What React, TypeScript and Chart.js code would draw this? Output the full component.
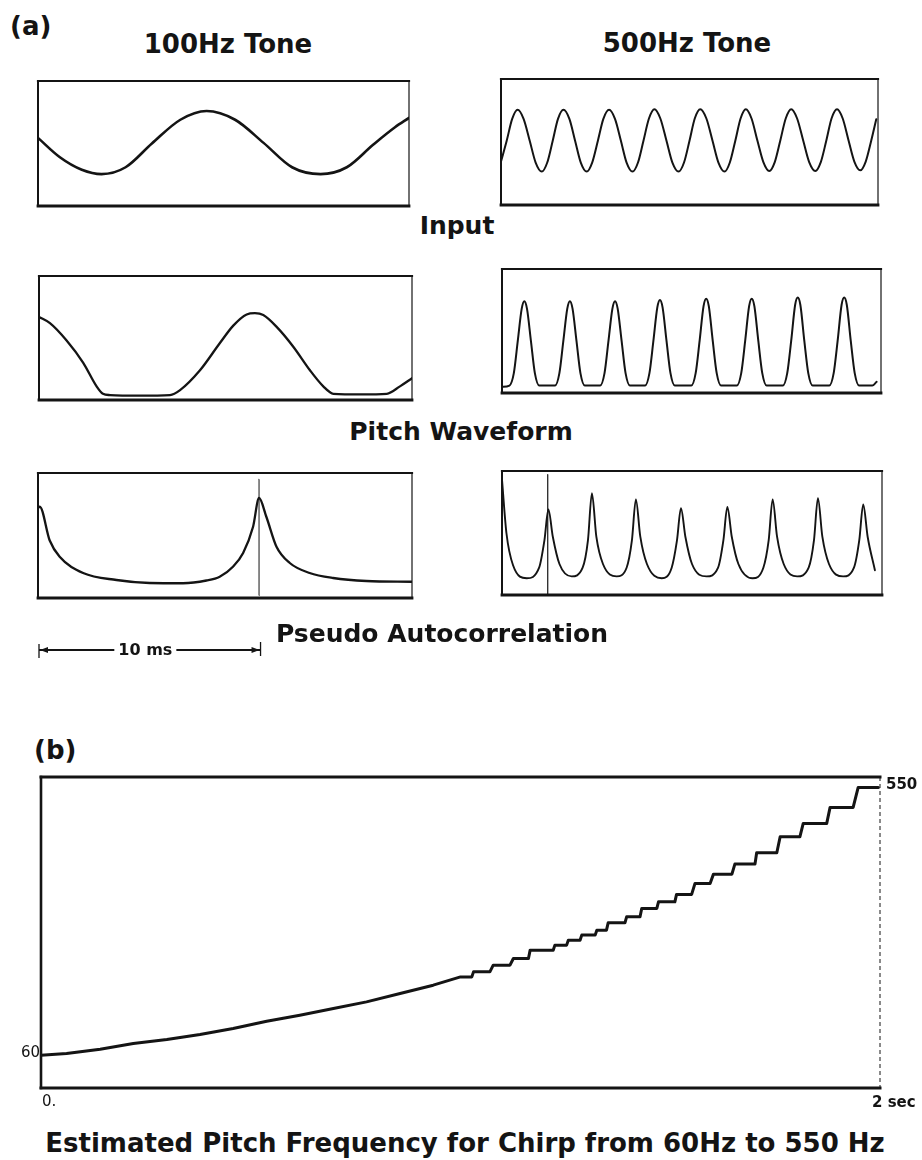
import React, { useEffect, useRef } from "react";
import { Chart, registerables } from "chart.js";

Chart.register(...registerables);

const INK = "#141414";
const FONT = '"DejaVu Sans", "Liberation Sans", sans-serif';

// ---------- (a) 100 Hz tone (time in ms, amplitude normalised to the panel) ----------
const tone100InputMs = [0, 1.0, 2.0, 2.9, 4.0, 5.2, 6.5, 7.7, 9.0, 10.3, 11.6, 12.9, 14.1, 15.3, 16.3, 16.94];
const tone100InputAmp = [0.09, -0.22, -0.42, -0.49, -0.38, 0.0, 0.38, 0.52, 0.38, 0.01, -0.38, -0.49, -0.38, -0.02, 0.26, 0.41];

const tone100PitchMs = [0, 0.5, 1.26, 2.02, 2.63, 2.92, 3.24, 4.6, 5.98, 6.44, 7.35, 8.26, 8.87, 9.48, 9.86, 10.24, 10.85, 11.61, 12.37, 12.98, 13.44, 14.7, 15.88, 16.48, 17.03];
const tone100PitchAmp = [0.67, 0.62, 0.48, 0.3, 0.11, 0.05, 0.04, 0.035, 0.04, 0.08, 0.24, 0.46, 0.6, 0.69, 0.7, 0.685, 0.59, 0.43, 0.24, 0.11, 0.05, 0.045, 0.05, 0.11, 0.175];

const tone100AcfMs = [0, 0.08, 0.53, 0.98, 2.04, 3.55, 5.05, 6.56, 7.62, 8.22, 8.82, 9.28, 9.73, 10.0, 10.33, 10.79, 11.39, 12.29, 13.35, 14.86, 16.9];
const tone100AcfAmp = [0.72, 0.73, 0.46, 0.33, 0.2, 0.144, 0.12, 0.118, 0.14, 0.17, 0.25, 0.36, 0.57, 0.8, 0.65, 0.41, 0.28, 0.2, 0.16, 0.136, 0.13];
const tone100LagMs = 10;
const tone100LagSpan = [0.02, 0.95];
const scaleBarMs = 10;
const scaleBarLabel = "10 ms";

// ---------- (a) 500 Hz tone ----------
const tone500InputMs = [
  0, 0.26, 0.51, 0.76, 1.03, 1.31, 1.58, 1.86, 2.11, 2.36, 2.6, 2.85, 3.12, 3.38, 3.64, 3.91,
  4.16, 4.42, 4.67, 4.93, 5.2, 5.47, 5.73, 6.0, 6.25, 6.5, 6.75, 7.0, 7.27, 7.55, 7.82, 8.1,
  8.35, 8.6, 8.84, 9.09, 9.37, 9.65, 9.92, 10.2, 10.44, 10.69, 10.93, 11.17, 11.43, 11.7, 11.97, 12.24,
  12.49, 12.74, 12.99, 13.24, 13.51, 13.79, 14.06, 14.34, 14.59, 14.84, 15.08, 15.33, 15.59, 15.86, 16.12, 16.39,
  16.64, 16.89, 17.12,
];
const tone500InputAmp = [
  -0.31, 0.02, 0.366, 0.51, 0.366, 0.02, -0.326, -0.47, -0.326, 0.02, 0.366, 0.51, 0.366, 0.02, -0.326, -0.47,
  -0.326, 0.02, 0.366, 0.51, 0.366, 0.02, -0.326, -0.47, -0.326, 0.02, 0.373, 0.52, 0.373, 0.02, -0.326, -0.47,
  -0.326, 0.02, 0.373, 0.52, 0.373, 0.02, -0.326, -0.47, -0.326, 0.02, 0.373, 0.52, 0.373, 0.02, -0.319, -0.46,
  -0.319, 0.02, 0.373, 0.52, 0.373, 0.02, -0.319, -0.46, -0.319, 0.02, 0.373, 0.52, 0.373, 0.02, -0.31, -0.45,
  -0.31, 0.02, 0.36,
];

const tone500PitchMs = [
  0, 0.34, 0.54, 0.72, 0.9, 1.02, 1.14, 1.32, 1.5, 1.7,
  2.42, 2.62, 2.8, 2.98, 3.1, 3.22, 3.4, 3.58, 3.78,
  4.48, 4.68, 4.86, 5.04, 5.16, 5.28, 5.46, 5.64, 5.84,
  6.53, 6.73, 6.91, 7.09, 7.21, 7.33, 7.51, 7.69, 7.89,
  8.64, 8.84, 9.02, 9.2, 9.32, 9.44, 9.62, 9.8, 10.0,
  10.72, 10.92, 11.1, 11.28, 11.4, 11.52, 11.7, 11.88, 12.08,
  12.82, 13.02, 13.2, 13.38, 13.5, 13.62, 13.8, 13.98, 14.18,
  14.94, 15.14, 15.32, 15.5, 15.62, 15.74, 15.92, 16.1, 16.3,
  16.9, 17.1,
];
const tone500PitchAmp = [
  0.05, 0.06, 0.16, 0.42, 0.68, 0.74, 0.68, 0.42, 0.16, 0.06,
  0.06, 0.16, 0.42, 0.68, 0.74, 0.68, 0.42, 0.16, 0.06,
  0.06, 0.16, 0.42, 0.68, 0.74, 0.68, 0.42, 0.16, 0.06,
  0.06, 0.16, 0.42, 0.69, 0.75, 0.69, 0.42, 0.16, 0.06,
  0.06, 0.16, 0.42, 0.7, 0.76, 0.7, 0.42, 0.16, 0.06,
  0.06, 0.16, 0.42, 0.7, 0.76, 0.7, 0.42, 0.16, 0.06,
  0.06, 0.16, 0.42, 0.71, 0.77, 0.71, 0.42, 0.16, 0.06,
  0.06, 0.16, 0.42, 0.71, 0.77, 0.71, 0.42, 0.16, 0.06,
  0.06, 0.09,
];

const tone500AcfMs = [
  0, 0.2, 0.5, 1.12,
  1.68, 1.92, 2.1, 2.3, 2.6, 3.15,
  3.65, 3.89, 4.07, 4.27, 4.57, 5.19,
  5.64, 5.88, 6.06, 6.26, 6.56, 7.23,
  7.68, 7.92, 8.1, 8.3, 8.6, 9.26,
  9.78, 10.02, 10.2, 10.4, 10.7, 11.34,
  11.83, 12.07, 12.25, 12.45, 12.75, 13.36,
  13.88, 14.12, 14.3, 14.5, 14.8, 15.44,
  15.93, 16.17, 16.35, 16.55, 16.88,
];
const tone500AcfAmp = [
  0.93, 0.5, 0.24, 0.135,
  0.22, 0.44, 0.69, 0.47, 0.25, 0.15,
  0.22, 0.44, 0.82, 0.47, 0.25, 0.15,
  0.22, 0.44, 0.77, 0.47, 0.25, 0.135,
  0.22, 0.44, 0.7, 0.47, 0.25, 0.15,
  0.22, 0.44, 0.71, 0.47, 0.25, 0.135,
  0.22, 0.44, 0.77, 0.47, 0.25, 0.15,
  0.22, 0.44, 0.78, 0.47, 0.25, 0.15,
  0.22, 0.44, 0.73, 0.47, 0.2,
];
const tone500LagMs = 2.07;
const tone500LagSpan = [0.0, 0.97];

// ---------- (b) estimated pitch of a 60 Hz -> 550 Hz chirp ----------
const chirpSec = [
  0, 0.061, 0.141, 0.22, 0.3, 0.379, 0.458, 0.538, 0.617, 0.697, 0.776, 0.856, 0.935,
  1.0, 1.027, 1.031, 1.07, 1.078, 1.118, 1.126, 1.162, 1.166, 1.221, 1.225, 1.253,
  1.257, 1.285, 1.289, 1.321, 1.325, 1.348, 1.352, 1.392, 1.396, 1.428, 1.432, 1.468,
  1.472, 1.511, 1.515, 1.551, 1.559, 1.595, 1.603, 1.647, 1.654, 1.702, 1.706, 1.754,
  1.762, 1.809, 1.817, 1.873, 1.881, 1.936, 1.948, 1.996,
];
const chirpHz = [
  60, 63.1, 71.0, 81.4, 88.7, 97.9, 108.9, 122.2, 133.2, 145.5, 157.6, 172.9, 188.1,
  203.3, 203.3, 212.5, 212.5, 224.7, 224.7, 237.0, 237.0, 252.2, 252.2, 261.4, 261.4,
  270.5, 270.5, 279.7, 279.7, 288.8, 288.8, 302.2, 302.2, 313.2, 313.2, 328.5, 328.5,
  340.6, 340.6, 354.2, 354.2, 374.3, 374.3, 391.3, 391.3, 409.6, 409.6, 430.3, 430.3,
  459.6, 459.6, 484.1, 484.1, 513.4, 513.4, 550, 550,
];
const chirpTicksHz = [60, 550];
const chirpTicksSec = [0, 2];
const chirpTickLabels = ["0.", "2 sec"];

type Trace = { xs: number[]; ys: number[]; width: number; smooth?: boolean };
type Frame = { top: number; bottom: number; left: number; right: number; rightDash?: number[] };
type PanelProps = {
  box: [number, number, number, number];
  pad: [number, number, number, number];
  xMax: number;
  yMin: number;
  yMax: number;
  traces: Trace[];
  frame: Frame;
  extra?: (chart: Chart) => void;
};

function drawFrame(chart: Chart, f: Frame) {
  const { ctx, chartArea: a } = chart;
  const seg = (w: number, x1: number, y1: number, x2: number, y2: number, dash?: number[]) => {
    ctx.lineWidth = w;
    ctx.setLineDash(dash ?? []);
    ctx.lineCap = dash ? "butt" : "square";
    ctx.beginPath();
    ctx.moveTo(x1, y1);
    ctx.lineTo(x2, y2);
    ctx.stroke();
  };
  ctx.save();
  ctx.strokeStyle = INK;
  seg(f.left, a.left, a.top, a.left, a.bottom);
  seg(f.right, a.right, a.top, a.right, a.bottom, f.rightDash);
  seg(f.top, a.left, a.top, a.right, a.top);
  seg(f.bottom, a.left, a.bottom, a.right, a.bottom);
  ctx.restore();
}

function Panel({ box, pad, xMax, yMin, yMax, traces, frame, extra }: PanelProps) {
  const ref = useRef<HTMLCanvasElement>(null);
  const [bx, by, bw, bh] = box;
  const [pl, pt, pr, pb] = pad;
  useEffect(() => {
    const canvas = ref.current;
    if (!canvas) return;
    const chart = new Chart(canvas, {
      type: "line",
      data: {
        datasets: traces.map((t) => ({
          data: t.xs.map((x, i) => ({ x, y: t.ys[i] })),
          borderColor: INK,
          borderWidth: t.width,
          pointRadius: 0,
          fill: false,
          tension: 0,
          cubicInterpolationMode: t.smooth ? "monotone" : "default",
          borderCapStyle: "round",
          borderJoinStyle: "round",
        })),
      },
      options: {
        responsive: false,
        animation: false,
        events: [],
        layout: { padding: { left: pl, top: pt, right: pr, bottom: pb } },
        plugins: { legend: { display: false }, tooltip: { enabled: false }, title: { display: false } },
        scales: {
          x: { type: "linear", min: 0, max: xMax, display: false },
          y: { type: "linear", min: yMin, max: yMax, display: false },
        },
      },
      plugins: [
        {
          id: "panelFrame",
          afterDatasetsDraw(c: Chart) {
            drawFrame(c, frame);
            if (extra) extra(c);
          },
        },
      ],
    } as any);
    return () => chart.destroy();
  }, []);
  return (
    <canvas
      ref={ref}
      width={bw + pl + pr}
      height={bh + pt + pb}
      style={{ position: "absolute", left: bx - pl, top: by - pt }}
    />
  );
}

function Label({ text, x, y, size, align = "center", weight = "bold" }: { text: string; x: number; y: number; size: number; align?: "center" | "left"; weight?: string }) {
  return (
    <div
      style={{
        position: "absolute",
        left: x,
        top: y,
        transform: `translate(${align === "center" ? "-50%" : "0"}, -50%)`,
        fontFamily: FONT,
        fontSize: size,
        fontWeight: weight as any,
        lineHeight: `${size}px`,
        whiteSpace: "nowrap",
        color: INK,
      }}
    >
      {text}
    </div>
  );
}

const smallFrame: Frame = { top: 2.2, bottom: 2.8, left: 2, right: 1.2 };
const PAD: [number, number, number, number] = [4, 4, 4, 4];

// 10 ms scale bar under the 100 Hz autocorrelation panel
function drawScaleBar(chart: Chart) {
  const { ctx, chartArea: a } = chart;
  const xs = chart.scales.x;
  const x0 = xs.getPixelForValue(0) + 1;
  const x1 = xs.getPixelForValue(scaleBarMs) + 1.5;
  const y = a.bottom + 52;
  ctx.save();
  ctx.strokeStyle = INK;
  ctx.fillStyle = INK;
  ctx.font = `bold 16px ${FONT}`;
  ctx.textAlign = "center";
  ctx.textBaseline = "middle";
  const cx = x0 + (x1 - x0) * 0.48;
  const tw = ctx.measureText(scaleBarLabel).width;
  ctx.fillText(scaleBarLabel, cx, y + 1);
  ctx.lineWidth = 2;
  ctx.beginPath();
  ctx.moveTo(x0, y);
  ctx.lineTo(cx - tw / 2 - 4, y);
  ctx.moveTo(cx + tw / 2 + 4, y);
  ctx.lineTo(x1, y);
  ctx.stroke();
  ctx.lineWidth = 1.3;
  ctx.beginPath();
  ctx.moveTo(x0, y - 6);
  ctx.lineTo(x0, y + 8);
  ctx.moveTo(x1, y - 8);
  ctx.lineTo(x1, y + 6);
  ctx.stroke();
  ctx.beginPath();
  ctx.moveTo(x0 + 1, y);
  ctx.lineTo(x0 + 9, y - 3);
  ctx.lineTo(x0 + 9, y + 3);
  ctx.closePath();
  ctx.moveTo(x1 - 1, y);
  ctx.lineTo(x1 - 9, y - 3);
  ctx.lineTo(x1 - 9, y + 3);
  ctx.closePath();
  ctx.fill();
  ctx.restore();
}

function drawChirpLabels(chart: Chart) {
  const { ctx, chartArea: a } = chart;
  const xs = chart.scales.x;
  const ys = chart.scales.y;
  ctx.save();
  ctx.fillStyle = INK;
  ctx.textBaseline = "middle";
  ctx.font = `15px ${FONT}`;
  ctx.textAlign = "right";
  ctx.fillText(String(chirpTicksHz[0]), a.left - 1, ys.getPixelForValue(chirpTicksHz[0]) - 2);
  ctx.font = `bold 15px ${FONT}`;
  ctx.textAlign = "left";
  ctx.fillText(String(chirpTicksHz[1]), a.right + 6, ys.getPixelForValue(chirpTicksHz[1]) - 2);
  ctx.font = `15px ${FONT}`;
  ctx.fillText(chirpTickLabels[0], xs.getPixelForValue(chirpTicksSec[0]) + 1, a.bottom + 14);
  ctx.font = `bold 15px ${FONT}`;
  ctx.fillText(chirpTickLabels[1], xs.getPixelForValue(chirpTicksSec[1]) - 8, a.bottom + 15);
  ctx.restore();
}

export default function App() {
  return (
    <div
      style={{
        position: "absolute",
        left: 0,
        top: 0,
        width: 922,
        height: 1160,
        overflow: "hidden",
        background: "#ffffff",
      }}
    >
      <Label text="(a)" x={10} y={26} size={26} align="left" />
      <Label text="100Hz Tone" x={228} y={44} size={26} />
      <Label text="500Hz Tone" x={687} y={43} size={26} />

      <Panel
        box={[38, 81, 371, 125]}
        pad={PAD}
        xMax={16.94}
        yMin={-1}
        yMax={1}
        traces={[{ xs: tone100InputMs, ys: tone100InputAmp, width: 2.6, smooth: true }]}
        frame={smallFrame}
      />
      <Panel
        box={[501, 79, 377, 126]}
        pad={PAD}
        xMax={17.2}
        yMin={-1}
        yMax={1}
        traces={[{ xs: tone500InputMs, ys: tone500InputAmp, width: 2, smooth: true }]}
        frame={smallFrame}
      />

      <Label text="Input" x={457} y={225} size={25} />

      <Panel
        box={[39, 276, 373, 124]}
        pad={PAD}
        xMax={17.03}
        yMin={0}
        yMax={1}
        traces={[{ xs: tone100PitchMs, ys: tone100PitchAmp, width: 2.3, smooth: true }]}
        frame={smallFrame}
      />
      <Panel
        box={[502, 269, 379, 124]}
        pad={PAD}
        xMax={17.3}
        yMin={0}
        yMax={1}
        traces={[{ xs: tone500PitchMs, ys: tone500PitchAmp, width: 2, smooth: true }]}
        frame={smallFrame}
      />

      <Label text="Pitch Waveform" x={461} y={431} size={25} />

      <Panel
        box={[38, 473, 374, 125]}
        pad={[6, 4, 4, 66]}
        xMax={16.92}
        yMin={0}
        yMax={1}
        traces={[
          { xs: tone100AcfMs, ys: tone100AcfAmp, width: 2.3, smooth: true },
          { xs: [tone100LagMs, tone100LagMs], ys: tone100LagSpan, width: 1 },
        ]}
        frame={smallFrame}
        extra={drawScaleBar}
      />
      <Panel
        box={[502, 471, 380, 124]}
        pad={PAD}
        xMax={17.2}
        yMin={0}
        yMax={1}
        traces={[
          { xs: tone500AcfMs, ys: tone500AcfAmp, width: 1.9, smooth: true },
          { xs: [tone500LagMs, tone500LagMs], ys: tone500LagSpan, width: 1.2 },
        ]}
        frame={smallFrame}
      />

      <Label text="Pseudo Autocorrelation" x={442} y={633} size={25} />

      <Label text="(b)" x={34} y={750} size={26} align="left" />

      <Panel
        box={[41, 777, 839, 311]}
        pad={[40, 8, 50, 26]}
        xMax={2}
        yMin={0}
        yMax={569}
        traces={[{ xs: chirpSec, ys: chirpHz, width: 3 }]}
        frame={{ top: 3, bottom: 3, left: 2.6, right: 1, rightDash: [4, 3] }}
        extra={drawChirpLabels}
      />

      <Label text="Estimated Pitch Frequency for Chirp from 60Hz to 550 Hz" x={465} y={1143} size={26} />
    </div>
  );
}
